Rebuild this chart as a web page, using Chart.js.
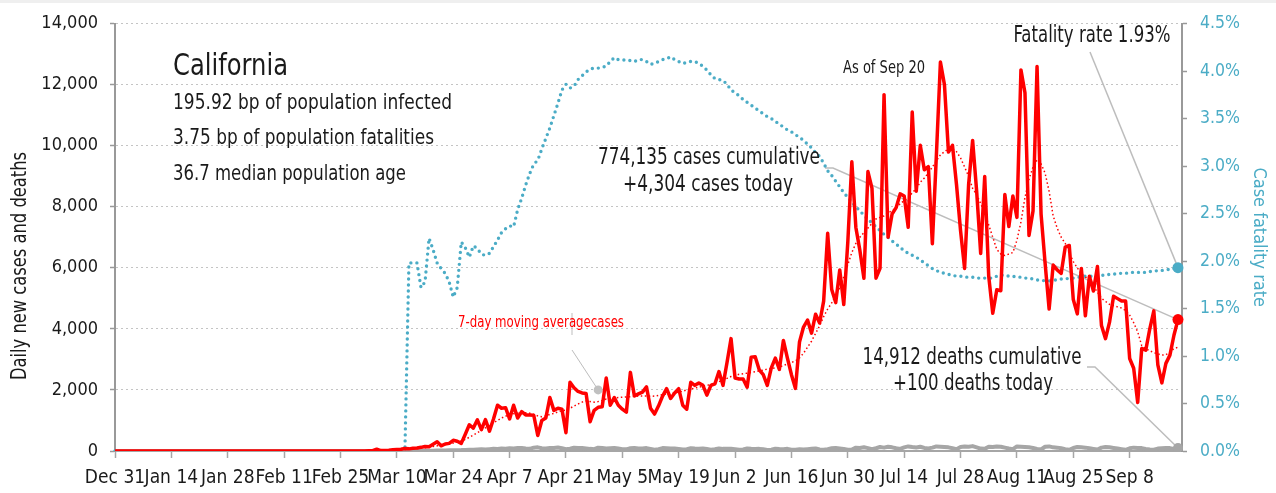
<!DOCTYPE html>
<html><head><meta charset="utf-8">
<script src="https://cdn.jsdelivr.net/npm/chart.js@4/dist/chart.umd.min.js"></script>
<style>html,body{margin:0;padding:0;background:#fff;overflow:hidden}#wrap{width:1276px;height:493px}</style>
</head><body><div id="wrap"><canvas id="c" width="1276" height="493"></canvas></div>
<script>
const FONT = '"DejaVu Sans Condensed","DejaVu Sans",sans-serif';
const TEAL = '#4bacc6';
const MONTHS = ['Jan','Feb','Mar','Apr','May','Jun','Jul','Aug','Sep','Oct','Nov','Dec'];

// categories: one per day from Dec 31, 2019 to Sep 21, 2020
const categories = [];
for (let i = 0; i < 266; i++) {
  const dt = new Date(Date.UTC(2019, 11, 31 + i));
  categories.push(MONTHS[dt.getUTCMonth()] + ' ' + dt.getUTCDate());
}
const tickLabels = ['Dec 31','Jan 14','Jan 28','Feb 11','Feb 25','Mar 10','Mar 24','Apr 7','Apr 21','May 5','May 19','Jun 2','Jun 16','Jun 30','Jul 14','Jul 28','Aug 11','Aug 25','Sep 8'];
const leftTicks = [0,2000,4000,6000,8000,10000,12000,14000];
const rightTicks = [0,0.5,1,1.5,2,2.5,3,3.5,4,4.5];

// daily new cases (Dec 31 .. Sep 20)
const cases = [
0,0,0,0,0,0,0,0,0,0, 0,0,0,0,0,0,0,0,0,0, 0,0,0,0,0,0,0,0,0,0,
0,0,0,0,0,0,0,0,0,0, 0,0,0,0,0,0,0,0,0,0, 0,0,0,0,0,0,0,0,0,0,
0,0,2,5,10,60,15,20,25,40,
50,60,80,70,90,100,120,150,140,220,
300,170,230,250,350,320,250,550,860,750,
1020,700,1030,650,1050,1500,1400,1420,1050,1500,
1080,1290,1180,1180,1170,510,1000,1080,1750,1330,
1400,1370,600,2250,2070,1950,1900,1880,960,1330,
1430,1450,2390,1500,1750,1500,1370,1270,2575,1800,
1870,1930,2100,1400,1210,1480,1800,2040,1720,1900,
2040,1500,1370,2250,2150,2230,2150,1830,2150,2200,
2600,2150,2900,3680,2390,2360,2360,2090,3070,3090,
2660,2500,2150,2720,3040,2670,3620,3040,2500,2050,
3570,4060,4290,3860,4480,4190,4910,7130,5290,4860,
5930,4800,6840,9470,7320,6570,5660,9150,8610,5660,
5980,11670,7000,7760,7970,8420,8350,7330,11100,8510,
10010,9210,9310,6790,9690,12740,12000,9790,10010,8720,
7220,5980,8720,10170,8510,6470,8990,5720,4510,5280,
5250,8400,7350,8350,7650,12480,11730,7060,7860,12590,
7760,6150,4650,6090,5930,5820,6680,6730,4960,4490,
5980,4430,5720,5240,6040,4110,3680,4220,5070,4990,
4910,4910,3030,2710,1590,3360,3300,4000,4590,2820,
2230,2870,3140,3790,4304
];

// 7-day moving average of cases
const avgCases = [
null,null,null,null,null,null,null,null,null,null, null,null,null,null,null,null,null,null,null,null,
null,null,null,null,null,null,null,null,null,null, null,null,null,null,null,null,null,null,null,null,
null,null,null,null,null,null,null,null,null,null, null,null,null,null,null,null,null,null,null,null,
null,null,null,null,null,null,null,null,null,null,
30,40,50,60,70,80,90,110,130,150,
170,190,210,230,260,290,330,380,450,520,
600,680,760,840,920,1000,1080,1140,1190,1220,
1240,1260,1250,1240,1200,1150,1120,1150,1200,1230,
1280,1320,1340,1400,1470,1540,1600,1640,1620,1600,
1620,1650,1700,1720,1740,1750,1760,1770,1780,1790,
1800,1800,1800,1790,1800,1820,1850,1870,1880,1900,
1930,1960,2000,2030,2060,2090,2120,2150,2180,2230,
2270,2320,2380,2440,2480,2510,2530,2550,2570,2600,
2620,2650,2680,2700,2720,2750,2800,2850,2900,2950,
3050,3200,3400,3600,3850,4100,4400,4650,4850,5100,
5350,5700,6100,6500,6800,7000,7150,7300,7450,7600,
7650,7700,7800,7870,7950,8100,8200,8300,8450,8600,
8800,8940,9100,9300,9500,9700,9800,9900,9900,9800,
9600,9300,9000,8600,8400,8100,7800,7400,7000,6600,
6450,6400,6450,6500,6900,7500,8300,8900,9300,9550,
9400,9100,8500,7700,7300,7000,6800,6500,6200,6000,
5800,5700,5550,5400,5200,5000,4900,4800,4760,4720,
4680,4600,4450,4200,3900,3450,3350,3280,3220,3180,
3140,3150,3250,3350,3400
];

// daily deaths
const deaths = [
0,0,0,0,0,0,0,0,0,0, 0,0,0,0,0,0,0,0,0,0, 0,0,0,0,0,0,0,0,0,0,
0,0,0,0,0,0,0,0,0,0, 0,0,0,0,0,0,0,0,0,0, 0,0,0,0,0,0,0,0,0,0,
0,0,0,0,0,0,0,0,0,0,
1,2,3,2,4,5,6,8,10,12,
15,18,20,25,22,28,30,35,40,45,
50,55,48,60,70,65,80,75,90,85,
95,100,80,70,110,120,90,85,95,100,
115,90,60,75,105,95,100,85,70,60,
110,100,85,90,95,80,60,55,90,100,
85,80,95,70,45,60,95,90,80,85,
70,50,60,90,80,75,85,65,45,55,
85,70,75,70,60,40,50,80,70,65,
70,55,35,45,75,65,60,70,40,45,
55,50,60,70,80,50,40,60,90,100,
85,70,45,50,110,100,120,95,60,90,
130,110,140,120,90,70,120,150,130,115,
140,100,85,110,150,140,130,120,90,60,
130,150,140,160,120,80,70,140,130,150,
140,110,80,60,150,140,130,120,100,70,
50,140,150,120,110,90,60,40,100,130,
120,110,90,70,50,110,130,120,100,80,
60,40,90,110,100,95,70,50,40,80,
90,100,95,70,100
];

// case fatality rate, percent
const fatalityRate = [
0,0,0,0,0,0,0,0,0,0, 0,0,0,0,0,0,0,0,0,0, 0,0,0,0,0,0,0,0,0,0,
0,0,0,0,0,0,0,0,0,0, 0,0,0,0,0,0,0,0,0,0, 0,0,0,0,0,0,0,0,0,0,
0,0,0,0,0,0,0,0,0,0, 0,0,0,
1.98,1.98,1.98,1.72,1.78,2.24,2.12,
1.98,1.92,1.87,1.78,1.62,1.72,2.20,2.14,2.04,2.16,
2.13,2.07,2.06,2.08,2.15,2.22,2.30,2.34,2.37,2.36,
2.54,2.66,2.80,2.92,3.02,3.06,3.18,3.29,3.40,3.53,
3.66,3.80,3.86,3.82,3.84,3.91,3.95,3.99,4.02,4.03,
4.03,4.04,4.05,4.10,4.14,4.12,4.12,4.11,4.11,4.10,
4.12,4.12,4.10,4.07,4.08,4.10,4.12,4.13,4.15,4.12,
4.10,4.08,4.09,4.10,4.10,4.08,4.05,4.01,3.96,3.92,
3.91,3.90,3.86,3.80,3.77,3.74,3.70,3.67,3.64,3.61,
3.58,3.55,3.52,3.50,3.47,3.44,3.41,3.38,3.36,3.33,
3.30,3.27,3.23,3.19,3.14,3.10,3.03,2.95,2.90,2.84,
2.78,2.72,2.67,2.62,2.57,2.53,2.48,2.44,2.40,2.36,
2.32,2.28,2.25,2.21,2.18,2.14,2.11,2.08,2.06,2.04,
2.01,1.98,1.95,1.92,1.90,1.88,1.87,1.86,1.85,1.84,
1.84,1.83,1.83,1.83,1.82,1.82,1.82,1.82,1.82,1.84,
1.85,1.85,1.84,1.84,1.83,1.83,1.82,1.82,1.81,1.80,
1.80,1.79,1.79,1.80,1.80,1.81,1.81,1.82,1.82,1.83,
1.83,1.84,1.84,1.84,1.84,1.85,1.85,1.86,1.86,1.87,
1.87,1.87,1.88,1.88,1.88,1.88,1.88,1.89,1.89,1.90,
1.90,1.91,1.91,1.92,1.93
];

const LAST = cases.length - 1;
const annotAnchor = {day: 120, value: 2000};

const fmt = v => Math.round(v).toString().replace(/\B(?=(\d{3})+(?!\d))/g, ',');
const lastOnly = r => ctx => ctx.dataIndex === LAST ? r : 0;
const xTickColor = ctx => (ctx.index % 14 === 0) ? '#a6a6a6' : 'rgba(0,0,0,0)';

function poly(ctx, pts) {
  ctx.beginPath();
  ctx.moveTo(pts[0][0], pts[0][1]);
  for (let i = 1; i < pts.length; i++) ctx.lineTo(pts[i][0], pts[i][1]);
  ctx.stroke();
}
// draw text squeezed horizontally to a given width (condensed look)
function fitText(c, text, x, y, size, w, align) {
  c.save();
  c.font = `${size}px ${FONT}`;
  c.textAlign = 'left';
  const m = c.measureText(text).width;
  const s = w / m;
  const x0 = align === 'center' ? x - w / 2 : x;
  c.translate(x0, y); c.scale(s, 1);
  c.fillText(text, 0, 0);
  c.restore();
}

const decor = {
  id: 'decor',
  beforeDraw(chart) {
    const c = chart.ctx;
    c.save();
    c.fillStyle = '#ffffff'; c.fillRect(0, 0, chart.width, chart.height);
    c.fillStyle = '#efefef'; c.fillRect(0, 0, chart.width, 3);
    c.restore();
  },
  beforeDatasetsDraw(chart) {
    const c = chart.ctx, {x, y, y1} = chart.scales;
    const xe = x.getPixelForValue(LAST);
    c.save();
    c.strokeStyle = '#bdbdbd'; c.lineWidth = 1.5;
    poly(c, [[825, 168], [833, 168], [xe, y.getPixelForValue(cases[LAST])]]);
    poly(c, [[1090, 52], [xe, y1.getPixelForValue(fatalityRate[LAST])]]);
    poly(c, [[1087, 367], [1095, 367], [xe, y.getPixelForValue(deaths[LAST])]]);
    const ax = x.getPixelForValue(annotAnchor.day), ay = y.getPixelForValue(annotAnchor.value);
    c.lineWidth = 1;
    poly(c, [[572, 350], [ax, ay]]);
    poly(c, [[572, 313], [572, 335]]);
    c.fillStyle = '#c0c0c0';
    c.beginPath(); c.arc(ax, ay, 4.5, 0, Math.PI * 2); c.fill();
    c.restore();
  },
  afterDatasetsDraw(chart) {
    const c = chart.ctx;
    c.save();
    c.fillStyle = '#1a1a1a';
    c.textBaseline = 'alphabetic';
    fitText(c, 'California', 173, 75, 30, 115, 'left');
    fitText(c, '195.92 bp of population infected', 173, 109, 22, 279, 'left');
    fitText(c, '3.75 bp of population fatalities', 173, 144, 22, 261, 'left');
    fitText(c, '36.7 median population age', 173, 180, 22, 233, 'left');
    fitText(c, 'As of Sep 20', 884, 73, 18, 82, 'center');
    fitText(c, 'Fatality rate 1.93%', 1092, 42, 23, 157, 'center');
    fitText(c, '774,135 cases cumulative', 709, 164, 23, 222, 'center');
    fitText(c, '+4,304 cases today', 708, 191, 23, 170, 'center');
    fitText(c, '14,912 deaths cumulative', 972, 364, 23, 219, 'center');
    fitText(c, '+100 deaths today', 973, 390, 23, 160, 'center');
    c.fillStyle = '#ff0000';
    fitText(c, '7-day moving averagecases', 458, 327, 16, 166, 'left');
    // left axis title
    c.fillStyle = '#1a1a1a';
    c.translate(21, 266); c.rotate(-Math.PI / 2);
    c.textBaseline = 'middle';
    fitText(c, 'Daily new cases and deaths', 0, 0, 21, 228, 'center');
    c.restore();
  }
};

new Chart(document.getElementById('c'), {
  type: 'line',
  data: {
    labels: categories,
    datasets: [
      {label: 'Daily cases', data: cases, yAxisID: 'y', borderColor: '#ff0000', borderWidth: 3.5,
       borderJoinStyle: 'round', pointRadius: lastOnly(5.5), pointHoverRadius: 0,
       pointBackgroundColor: '#ff0000', pointBorderWidth: 0, order: 1},
      {label: '7-day average', data: avgCases, yAxisID: 'y', borderColor: '#ff0000', borderWidth: 1.5,
       borderDash: [1.5, 2.5], pointRadius: 0, order: 2},
      {label: 'Daily deaths', data: deaths, yAxisID: 'y', borderColor: '#a6a6a6', borderWidth: 4,
       borderJoinStyle: 'round', pointRadius: lastOnly(5), pointBackgroundColor: '#a6a6a6',
       pointBorderWidth: 0, order: 3},
      {label: 'Case fatality rate', data: fatalityRate, yAxisID: 'y1', borderColor: TEAL, borderWidth: 3.4,
       borderDash: [0, 6], borderCapStyle: 'round', pointRadius: lastOnly(5.5),
       pointBackgroundColor: TEAL, pointBorderWidth: 0, order: 4}
    ]
  },
  options: {
    responsive: false, animation: false, devicePixelRatio: 1,
    layout: {padding: {top: 16, left: 0, right: 0, bottom: 0}},
    plugins: {legend: {display: false}, tooltip: {enabled: false}},
    elements: {line: {tension: 0}},
    scales: {
      x: {
        type: 'category', offset: false,
        grid: {drawOnChartArea: false, color: xTickColor, tickColor: xTickColor, tickLength: 7, tickWidth: 1.5},
        border: {color: '#a6a6a6', width: 2},
        ticks: {autoSkip: false, maxRotation: 0, minRotation: 0, padding: 9, color: '#1a1a1a',
          font: {family: FONT, size: 19},
          callback: (v, i) => (i % 14 === 0 ? tickLabels[i / 14] : '')},
        afterFit: s => { s.height = 42; }
      },
      y: {
        position: 'left', min: leftTicks[0], max: leftTicks[leftTicks.length - 1],
        afterBuildTicks: s => { s.ticks = leftTicks.map(v => ({value: v})); },
        grid: {color: '#c4c4c4', lineWidth: 1, tickColor: '#999', tickLength: 5, tickWidth: 1.5},
        border: {color: '#999', width: 2, dash: [2, 3]},
        ticks: {padding: 12, color: '#1a1a1a', font: {family: FONT, size: 18}, callback: v => fmt(v)},
        afterFit: s => { s.width = 115; }
      },
      y1: {
        position: 'right', min: rightTicks[0], max: rightTicks[rightTicks.length - 1],
        afterBuildTicks: s => { s.ticks = rightTicks.map(v => ({value: v})); },
        grid: {drawOnChartArea: false, tickColor: '#999', tickLength: 5, tickWidth: 1.5},
        border: {color: '#999', width: 2},
        ticks: {padding: 13, color: TEAL, font: {family: FONT, size: 17.5}, callback: v => v.toFixed(1) + '%'},
        title: {display: true, text: 'Case fatality rate', color: TEAL, font: {family: FONT, size: 18}, padding: {top: 7, bottom: 0}},
        afterFit: s => { s.width = 94; }
      }
    }
  },
  plugins: [decor]
});
</script>
</body></html>
